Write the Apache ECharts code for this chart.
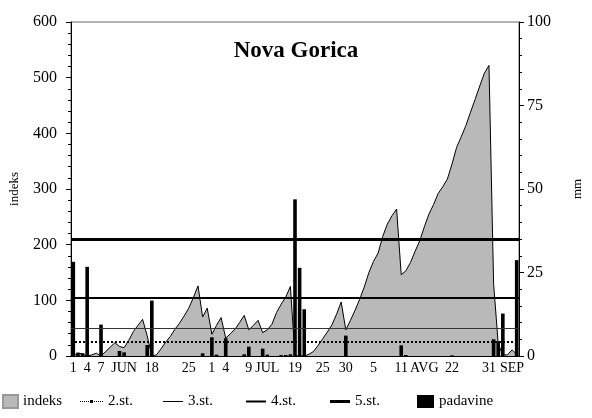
<!DOCTYPE html>
<html><head><meta charset="utf-8">
<script src="https://cdn.jsdelivr.net/npm/echarts@6/dist/echarts.min.js"></script>
<style>html,body{margin:0;padding:0;background:#fff}#c{width:592px;height:418px}</style>
</head><body><div id="c"></div>
<script>
// ---- data ----
const indeks = [
  0,5,4,0,2,5,0,8,16,24,
  17,15,28,44,55,66,36,0,2,13,
  25,35,48,59,72,86,105,126,70,86,
  39,55,69,32,40,48,60,73,47,55,
  64,42,47,57,78,93,106,125,0,0,
  0,3,8,19,31,43,56,75,97,47,
  64,82,102,124,150,170,185,215,237,252,
  264,146,153,168,188,207,232,255,272,292,
  304,318,345,375,394,414,438,461,485,508,
  522,130,22,2,2,11,3
];
const padavine = [
  28.2,1.0,0.8,26.7,0,0,9.4,0,0,0,
  1.5,1.1,0,0,0,0,3.3,16.6,0,0,
  0,0,0,0,0,0,0,0,0.8,0,
  5.6,0.4,0,5.3,0,0,0,0.5,2.8,0,
  0,2.2,0.4,0,0,0.3,0.3,0.5,46.9,26.4,
  14,0,0,0,0,0,0,0,0,6.1,
  0,0,0,0,0,0,0,0,0,0,
  0,3.2,0.3,0,0,0,0,0,0,0,
  0,0,0.2,0,0,0,0,0,0,0,
  0,5.0,4.4,12.7,0,0,28.7
];
const levels = [25, 50, 105, 210];
const levelNames = ['2.st.', '3.st.', '4.st.', '5.st.'];
const tickIdx  = [0, 3, 6, 11, 17, 25, 30, 33, 38, 42, 48, 54, 59, 65, 71, 76, 82, 90, 95];
const tickText = ['1','4','7','JUN','18','25','1','4','9','JUL','19','25','30','5','11','AVG','22','31','SEP'];
const categories = [];
(function(){
  const start = new Date(2003, 5, 1);
  for (let i = 0; i < indeks.length; i++) {
    const d = new Date(start.getTime() + i * 86400000);
    categories.push(d.getDate() + '.' + (d.getMonth() + 1) + '.');
  }
})();
const labelMap = {};
tickIdx.forEach((k, j) => { labelMap[k] = tickText[j]; });

// ---- styles ----
const font = "'Liberation Serif', 'Times New Roman', serif";
const levelLine = [
  {type: [2, 2], width: 2, color: '#000'},
  {type: 'solid', width: 1, color: '#333'},
  {type: 'solid', width: 2, color: '#000'},
  {type: 'solid', width: 3, color: '#000'}
];
const dotIcon = 'path://M0,1h1v1h-1zM2,1h1v1h-1zM4,1h1v1h-1zM6,1h1v1h-1zM8,1h1v1h-1zM10,0h3v3h-3zM14,1h1v1h-1zM16,1h1v1h-1zM18,1h1v1h-1zM20,1h1v1h-1zM22,1h1v1h-1z';
const legendIcon = [dotIcon, 'rect', 'rect', 'rect'];
const legendIconH = [3, 1, 2, 3];
const legendIconW = [23, 20, 20, 20];
const legendLeft = [80, 163, 246, 330];

const chart = echarts.init(document.getElementById('c'), null, {renderer: 'canvas'});
const txt = {color: '#000', fontFamily: font, fontSize: 15};
const LT = 394;

const legends = [
  {data: [{name: 'indeks', icon: 'rect'}], left: 2, top: LT, itemWidth: 15, itemHeight: 13, textStyle: txt, itemGap: 0, padding: 0},
  {data: [{name: 'padavine', icon: 'rect'}], left: 417, top: LT, itemWidth: 17, itemHeight: 13, textStyle: txt, itemGap: 0, padding: 0}
];
levelNames.forEach((n, k) => legends.push({
  data: [{name: n, icon: legendIcon[k]}], left: legendLeft[k], top: LT,
  itemWidth: legendIconW[k], itemHeight: legendIconH[k], textStyle: txt, itemGap: 0, padding: 0
}));

const series = [
  {
    name: 'indeks', type: 'line', data: indeks, yAxisIndex: 0, xAxisIndex: 0,
    symbol: 'none', smooth: false, z: 2,
    lineStyle: {color: '#000', width: 1},
    itemStyle: {color: '#b9b9b9', borderColor: '#999', borderWidth: 0.5},
    areaStyle: {color: '#b9b9b9', opacity: 1}
  }
];
levels.forEach((lv, k) => series.push({
  name: levelNames[k], type: 'line', data: [], yAxisIndex: 0,
  symbol: 'none',
  itemStyle: {color: '#000'},
  lineStyle: {color: '#000', width: levelLine[k].width},
  z: 3,
  markLine: {
    silent: true, symbol: 'none', animation: false,
    label: {show: false},
    lineStyle: levelLine[k],
    data: [{yAxis: lv}]
  }
}));
series.push({
  name: 'padavine', type: 'bar', data: padavine, yAxisIndex: 1,
  barWidth: '78%', z: 4,
  itemStyle: {color: '#000'}
});

chart.setOption({
  animation: false,
  backgroundColor: '#fff',
  title: {
    text: 'Nova Gorica', left: 'center', top: 35,
    textStyle: {fontFamily: font, fontSize: 23, fontWeight: 'bold', color: '#000'}
  },
  legend: legends,
  grid: {left: 69, right: 70, top: 22, bottom: 62, show: true, borderColor: '#666', borderWidth: 1, containLabel: false},
  xAxis: {
    type: 'category', data: categories, boundaryGap: true,
    axisLine: {lineStyle: {color: '#000', width: 1}},
    axisTick: {show: false},
    axisLabel: {
      interval: 0, margin: 5, color: '#000', fontFamily: font, fontSize: 14,
      formatter: (v, i) => labelMap[i] || ''
    },
    splitLine: {show: false}
  },
  yAxis: [
    {
      type: 'value', min: 0, max: 600, interval: 100, position: 'left',
      name: 'indeks', nameLocation: 'middle', nameGap: 50, nameRotate: 90,
      nameTextStyle: {color: '#000', fontFamily: font, fontSize: 13},
      axisLine: {show: true, lineStyle: {color: '#000'}},
      axisTick: {show: true, length: 5, lineStyle: {color: '#000'}},
      minorTick: {show: true, splitNumber: 5, length: 3, lineStyle: {color: '#000'}},
      axisLabel: {color: '#000', fontFamily: font, fontSize: 16, margin: 14},
      splitLine: {show: false}
    },
    {
      type: 'value', min: 0, max: 100, interval: 25, position: 'right',
      name: 'mm', nameLocation: 'middle', nameGap: 52, nameRotate: 90,
      nameTextStyle: {color: '#000', fontFamily: font, fontSize: 13},
      axisLine: {show: true, lineStyle: {color: '#000'}},
      axisTick: {show: true, length: 5, lineStyle: {color: '#000'}},
      minorTick: {show: true, splitNumber: 5, length: 3, lineStyle: {color: '#000'}},
      axisLabel: {color: '#000', fontFamily: font, fontSize: 16, margin: 8},
      splitLine: {show: false}
    }
  ],
  series: series
});
</script>
</body></html>
